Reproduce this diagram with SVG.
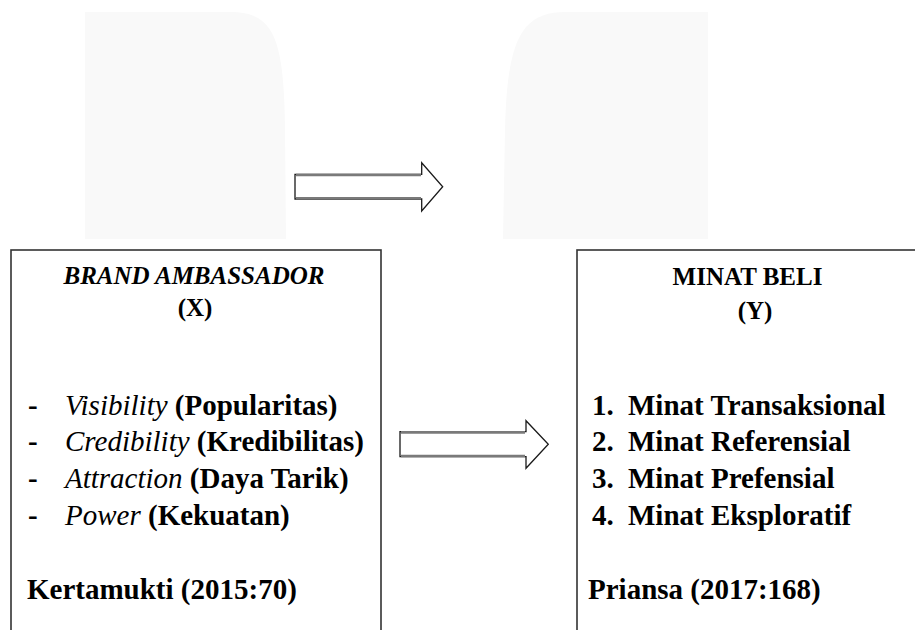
<svg xmlns="http://www.w3.org/2000/svg" width="915" height="630" viewBox="0 0 915 630">
<style>
.bg{fill:#f9f9f9;stroke:none}
.box{fill:#ffffff;stroke:#333333;stroke-width:1.6}
.t{font-family:"Liberation Serif","Times New Roman",serif;font-weight:bold;fill:#000000}
.h{font-size:25px}
.i{font-size:29px}
.it{font-style:italic;font-weight:normal}
.arr{fill:#ffffff;stroke:#1a1a1a;stroke-width:1.3;stroke-linejoin:miter}
.sh{stroke:#7a7a7a;stroke-width:2.6;fill:none}
</style>
<rect width="915" height="630" fill="#ffffff"/>
<g id="background">
<path class="bg" d="M85,12 H230 C274,12 284,38 285,130 L286,239 H85 Z"/>
<path class="bg" d="M708,12 H566 C522,12 507,38 505,130 L503,239 H708 Z"/>
</g>
<g id="node-x">
<rect class="box" x="11" y="250" width="370" height="400"/>
<text class="t h" x="194" y="284" text-anchor="middle" font-style="italic">BRAND AMBASSADOR</text>
<text class="t h" x="195" y="316" text-anchor="middle">(X)</text>
<text class="t i" x="28" y="415">-</text>
<text class="t i" x="65" y="415"><tspan class="it">Visibility</tspan> (Popularitas)</text>
<text class="t i" x="28" y="451">-</text>
<text class="t i" x="65" y="451"><tspan class="it">Credibility</tspan> (Kredibilitas)</text>
<text class="t i" x="28" y="488">-</text>
<text class="t i" x="65" y="488"><tspan class="it">Attraction</tspan> (Daya Tarik)</text>
<text class="t i" x="28" y="525">-</text>
<text class="t i" x="65" y="525"><tspan class="it">Power</tspan> (Kekuatan)</text>
<text class="t i" x="27" y="599">Kertamukti (2015:70)</text>
</g>
<g id="node-y">
<rect class="box" x="577" y="250" width="360" height="400"/>
<text class="t h" x="747.5" y="285" text-anchor="middle">MINAT BELI</text>
<text class="t h" x="755" y="319" text-anchor="middle">(Y)</text>
<text class="t i" x="592" y="415">1.</text>
<text class="t i" x="628" y="415">Minat Transaksional</text>
<text class="t i" x="592" y="451">2.</text>
<text class="t i" x="628" y="451">Minat Referensial</text>
<text class="t i" x="592" y="488">3.</text>
<text class="t i" x="628" y="488">Minat Prefensial</text>
<text class="t i" x="592" y="525">4.</text>
<text class="t i" x="628" y="525">Minat Eksploratif</text>
<text class="t i" x="588" y="599">Priansa (2017:168)</text>
</g>
<g id="connectors">
<g id="arrow-top">
<polygon class="arr" points="295,174.3 421.7,174.3 421.7,162.7 442.7,186.7 421.7,211 421.7,199 295,199"/>
<line class="sh" x1="296" y1="175" x2="421" y2="175"/>
<line class="sh" x1="296" y1="198.3" x2="421" y2="198.3"/>
</g>
<g id="arrow-mid">
<polygon class="arr" points="400,431.7 526,431.7 526,420.7 548.3,444.3 526,468.3 526,456.7 400,456.7"/>
<line class="sh" x1="401" y1="432.4" x2="525" y2="432.4"/>
<line class="sh" x1="401" y1="456" x2="525" y2="456"/>
</g>
</g>
</svg>
